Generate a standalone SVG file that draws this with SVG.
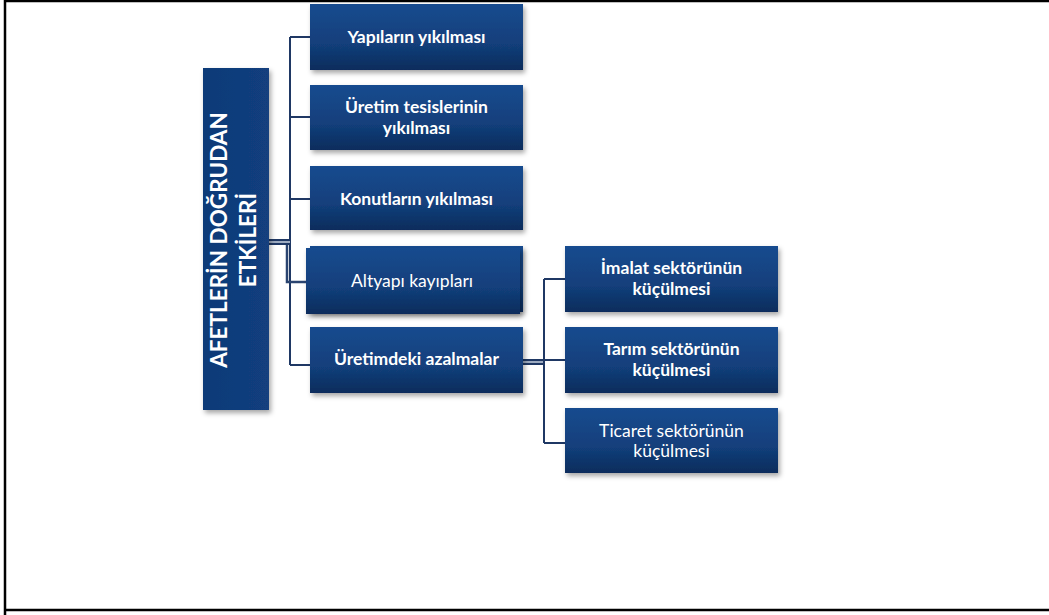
<svg xmlns="http://www.w3.org/2000/svg" width="1049" height="615" viewBox="0 0 1049 615">
<defs>
<linearGradient id="g" x1="0" y1="0" x2="0" y2="1">
<stop offset="0" stop-color="#174B8F"/>
<stop offset="0.6" stop-color="#123F7B"/>
<stop offset="1" stop-color="#0D2C5C"/>
</linearGradient>
<linearGradient id="gv" x1="0" y1="0" x2="1" y2="0">
<stop offset="0" stop-color="#0F3A78"/>
<stop offset="1" stop-color="#123F7E"/>
</linearGradient>
<filter id="sh" x="-10%" y="-10%" width="125%" height="130%">
<feDropShadow dx="2" dy="3" stdDeviation="2.5" flood-color="#000" flood-opacity="0.35"/>
</filter>
</defs>
<style>
.box{fill:url(#g);filter:url(#sh)}
.t{font-family:Lato,"Open Sans","Liberation Sans",sans-serif;font-size:17.5px;fill:#fff;text-anchor:middle}
.b{font-weight:bold}
.big{font-size:22.5px}
.ln{fill:none;stroke:#1F3864;stroke-width:2}
.dbl{fill:none;stroke:#1F3864;stroke-width:6}
.dblin{fill:none;stroke:#C9D2E0;stroke-width:1.5}
</style>
<rect x="0" y="0" width="1049" height="615" fill="#fff"/>
<path d="M5,615 V1 H1049 M5,610 H1049" fill="none" stroke="#000" stroke-width="2.5"/>
<g id="connectors">
<path class="ln" d="M290,37 V365 M290,37 H310 M290,117 H310 M290,199 H310 M290,365 H310"/>
<path d="M287,242 V282 H306" fill="none" stroke="#2A4470" stroke-width="2.5"/>
<path class="dbl" d="M269,242 H290"/>
<path class="dblin" d="M269,242 H290"/>
<path class="dbl" d="M523,362 H544"/>
<path class="dblin" d="M523,362 H544"/>
<path class="ln" d="M544,279 V443 M544,279 H565 M544,360 H565 M544,443 H565"/>
</g>
<g id="root">
<rect x="203" y="68" width="66" height="342" fill="url(#gv)" filter="url(#sh)"/>
<text class="t b big" transform="translate(227,240) rotate(-90)">AFETLERİN DOĞRUDAN</text>
<text class="t b big" transform="translate(256,240) rotate(-90)">ETKİLERİ</text>
</g>
<g id="n1">
<rect class="box" x="310" y="4" width="213" height="66"/>
<text class="t b" x="416.5" y="43">Yapıların yıkılması</text>
</g>
<g id="n2">
<rect class="box" x="310" y="85" width="213" height="65"/>
<text class="t b" x="416.5" y="113">Üretim tesislerinin</text>
<text class="t b" x="416.5" y="134">yıkılması</text>
</g>
<g id="n3">
<rect class="box" x="310" y="166" width="213" height="64"/>
<text class="t b" x="416.5" y="205">Konutların yıkılması</text>
</g>
<g id="n4">
<rect class="box" x="310" y="246" width="213" height="66"/>
<rect class="box" x="306" y="248" width="214" height="66"/>
<text class="t" x="412" y="287">Altyapı kayıpları</text>
</g>
<g id="n5">
<rect class="box" x="310" y="327" width="213" height="66"/>
<text class="t b" x="416.5" y="365">Üretimdeki azalmalar</text>
</g>
<g id="n6">
<rect class="box" x="565" y="246" width="213" height="66"/>
<text class="t b" x="671.5" y="274">İmalat sektörünün</text>
<text class="t b" x="671.5" y="295">küçülmesi</text>
</g>
<g id="n7">
<rect class="box" x="565" y="327" width="213" height="66"/>
<text class="t b" x="671.5" y="355">Tarım sektörünün</text>
<text class="t b" x="671.5" y="376">küçülmesi</text>
</g>
<g id="n8">
<rect class="box" x="565" y="408" width="213" height="65"/>
<text class="t" x="671.5" y="437">Ticaret sektörünün</text>
<text class="t" x="671.5" y="457">küçülmesi</text>
</g>
</svg>
